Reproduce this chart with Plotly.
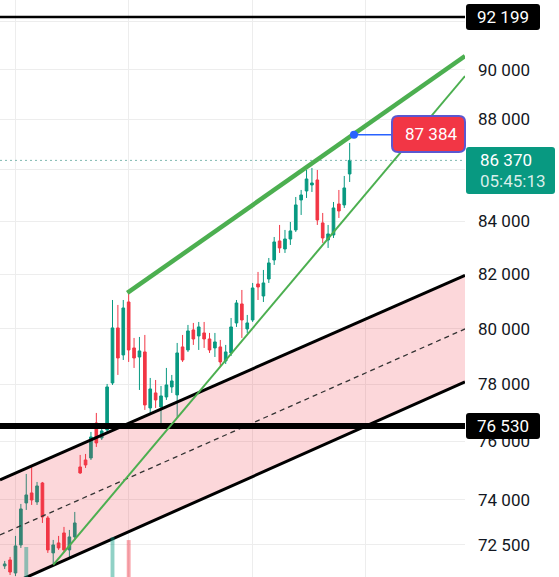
import math
import plotly.graph_objects as go

# ---------------- data ----------------
opens = [71804, 72001, 71575, 72495, 73894, 74232, 73928, 74570, 73391, 72232,
         72561, 72892, 72331, 72760, 75116, 75355, 75424, 76636, 76115, 76393,
         78045, 80025, 79047, 80977, 79299, 78974, 79155, 77162, 77691, 77197,
         77549, 77903, 77620, 79336, 79227, 79952, 79734, 79843, 79624, 79299,
         79336, 78830, 79119, 80207, 80904, 79989, 80316, 81644, 81198, 81829,
         82541, 83258, 82956, 83334, 83677, 84827, 85176, 85409, 85603, 83944,
         83296, 83486, 84673, 84635, 85838]
highs = [71968, 72100, 72793, 73861, 74877, 75116, 74604, 74604, 73458, 72660,
         72793, 73092, 72992, 73592, 75528, 75562, 76323, 76986, 76462, 78009,
         81050, 80867, 81050, 81310, 79661, 79697, 79770, 78223, 78151, 77938,
         78580, 78330, 79480, 79770, 80134, 80207, 80243, 80243, 79843, 79843,
         79588, 79408, 80389, 81050, 81421, 80500, 81681, 82092, 82167, 82616,
         83410, 83868, 83677, 83982, 84943, 85215, 85994, 86072, 85994, 84327,
         83868, 84750, 85215, 85760, 87058]
lows = [71706, 71509, 71476, 72396, 73660, 73827, 73827, 73224, 72232, 71837,
        72331, 72232, 72067, 72660, 74877, 75082, 75355, 75804, 76045, 76323,
        77974, 78330, 78866, 78795, 78580, 77797, 77092, 76916, 77162, 76636,
        77443, 77691, 76810, 78795, 79155, 79408, 79227, 79299, 79119, 78974,
        78616, 78723, 79010, 80061, 79661, 79843, 80243, 81050, 80977, 81681,
        82354, 82805, 82805, 83107, 83601, 84250, 84905, 85137, 83868, 83183,
        82994, 83372, 84135, 84519, 85525]
closes = [71870, 71607, 72462, 73693, 74164, 73995, 74469, 73425, 72331, 72495,
          72396, 72331, 72760, 73224, 74911, 75184, 76149, 75942, 76358, 77903,
          80025, 78938, 80756, 79227, 78938, 79191, 77267, 77832, 77443, 77585,
          77974, 78116, 79119, 78866, 79916, 79624, 80061, 79624, 79227, 79516,
          78795, 79155, 80061, 80940, 80316, 80207, 81495, 81532, 81681, 82429,
          83221, 82994, 83334, 83639, 84635, 85021, 85642, 85487, 84058, 83372,
          83525, 84519, 84404, 85293, 86370]
bar_index = list(range(len(opens)))

# visible volume bars (index, volume units)
vol_index = [4, 20, 23]
vol_values = [5.2, 6.9, 6.4]
vol_colors = ["rgba(8,153,129,0.45)", "rgba(8,153,129,0.45)", "rgba(242,54,69,0.45)"]

# drawing levels / trend lines (price anchors)
level_top = 92199
level_support = 76530
last_price = 86370
last_time = "05:45:13"
alert_price = 87384
alert_index = 64.8

upper_trend_x = [22.75, 85.4]
upper_trend_y = [81310, 90575]
lower_trend_x = [9, 85.4]
lower_trend_y = [71837, 89752]

channel_x = [-0.872, 85.4]
channel_upper = [74672, 81964]
channel_mid = [72826, 79989]
channel_lower = [71054, 78080]

y_ticks = [72500, 74000, 76000, 78000, 80000, 82000, 84000, 86000, 88000, 90000, 92000]
y_ticktext = ["72 500", "74 000", "76 000", "78 000", "80 000", "82 000", "84 000", "", "88 000", "90 000", ""]
x_grid = [2, 23, 46, 66.85]

x_range = [-0.872, 85.4]
y_min, y_max = 71444, 92915

# ---------------- styling ----------------
W, H = 559, 577
PW = 465  # plot width in px
UP = "#089981"
DN = "#f23645"
GREEN = "#4caf50"
FONT = "Roboto"


def px(x):
    return x / PW


def py(y):
    return 1 - y / H


def rrect(x0, y0, x1, y1, r):
    rx, ry = r / PW, r / H
    a, b, c, d = px(x0), py(y0), px(x1), py(y1)
    return (f"M {a+rx},{b} L {c-rx},{b} Q {c},{b} {c},{b-ry} "
            f"L {c},{d+ry} Q {c},{d} {c-rx},{d} L {a+rx},{d} "
            f"Q {a},{d} {a},{d+ry} L {a},{b-ry} Q {a},{b} {a+rx},{b} Z")


fig = go.Figure()

# channel fill
fig.add_trace(go.Scatter(
    x=[channel_x[0], channel_x[1], channel_x[1], channel_x[0]],
    y=[channel_upper[0], channel_upper[1], channel_lower[1], channel_lower[0]],
    fill="toself", fillcolor="rgba(242,54,69,0.2)", mode="lines",
    line=dict(width=0), hoverinfo="skip", showlegend=False))

# candles
fig.add_trace(go.Candlestick(
    x=bar_index, open=opens, high=highs, low=lows, close=closes,
    increasing=dict(line=dict(color=UP, width=1), fillcolor=UP),
    decreasing=dict(line=dict(color=DN, width=1), fillcolor=DN),
    whiskerwidth=0, showlegend=False))

# dotted last price line
fig.add_trace(go.Scatter(x=x_range, y=[last_price, last_price], mode="lines",
                         line=dict(color="#7fb8b0", width=1, dash="2px,3px"),
                         hoverinfo="skip", showlegend=False))

# channel lines
fig.add_trace(go.Scatter(x=channel_x, y=channel_upper, mode="lines",
                         line=dict(color="black", width=3), showlegend=False))
fig.add_trace(go.Scatter(x=channel_x, y=channel_lower, mode="lines",
                         line=dict(color="black", width=3), showlegend=False))
fig.add_trace(go.Scatter(x=channel_x, y=channel_mid, mode="lines",
                         line=dict(color="#333333", width=1.3, dash="5px,4px"), showlegend=False))

# horizontal levels
fig.add_trace(go.Scatter(x=x_range, y=[level_top, level_top], mode="lines",
                         line=dict(color="black", width=2.5), showlegend=False))
fig.add_trace(go.Scatter(x=x_range, y=[level_support, level_support], mode="lines",
                         line=dict(color="black", width=6), showlegend=False))

# trend lines
fig.add_trace(go.Scatter(x=lower_trend_x, y=lower_trend_y, mode="lines",
                         line=dict(color=GREEN, width=2), showlegend=False))
fig.add_trace(go.Scatter(x=upper_trend_x, y=upper_trend_y, mode="lines",
                         line=dict(color=GREEN, width=4.5), showlegend=False))

# alert connector + dot
fig.add_trace(go.Scatter(x=[alert_index, x_range[0] + 392 / PW * (x_range[1] - x_range[0])],
                         y=[alert_price, alert_price], mode="lines",
                         line=dict(color="#2962ff", width=1.5), showlegend=False))
fig.add_trace(go.Scatter(x=[alert_index], y=[alert_price], mode="markers",
                         marker=dict(color="#2962ff", size=8), showlegend=False))

# volume
fig.add_trace(go.Bar(x=vol_index, y=vol_values, marker=dict(color=vol_colors, line=dict(width=0)),
                     width=0.72, yaxis="y2", showlegend=False))

shapes = [
    dict(type="path", xref="paper", yref="paper", path=rrect(466, 4, 540, 30, 3),
         fillcolor="black", line=dict(width=0), layer="above"),
    dict(type="path", xref="paper", yref="paper", path=rrect(466, 413, 540, 439, 3),
         fillcolor="black", line=dict(width=0), layer="above"),
    dict(type="path", xref="paper", yref="paper", path=rrect(466, 147, 555, 194, 3),
         fillcolor=UP, line=dict(width=0), layer="above"),
    dict(type="path", xref="paper", yref="paper", path=rrect(392, 116, 465, 152, 6),
         fillcolor=DN, line=dict(color="#5b57d0", width=2), layer="above"),
]

annotations = [
    dict(text=f"{level_top:,}".replace(",", " "), x=px(503), y=py(17)),
    dict(text=f"{level_support:,}".replace(",", " "), x=px(503), y=py(426)),
    dict(text=f"{alert_price:,}".replace(",", " "), x=px(431), y=py(134)),
    dict(text=f"{last_price:,}".replace(",", " "), x=px(478), y=py(160), xanchor="left"),
    dict(text=last_time, x=px(478), y=py(181), xanchor="left", font=dict(family=FONT, size=17, color="rgba(255,255,255,0.85)")),
]
for a in annotations:
    a.setdefault("xanchor", "center")
    a.update(xref="paper", yref="paper", yanchor="middle", showarrow=False)
    a.setdefault("font", dict(family=FONT, size=17, color="white"))

fig.update_layout(
    width=W, height=H,
    margin=dict(l=0, r=W - PW, t=0, b=0),
    paper_bgcolor="white", plot_bgcolor="white",
    showlegend=False,
    shapes=shapes, annotations=annotations,
    xaxis=dict(range=x_range, rangeslider=dict(visible=False), showticklabels=False,
               tickvals=x_grid, showgrid=True, gridcolor="#ededed", gridwidth=1,
               zeroline=False, showline=False, ticks=""),
    yaxis=dict(type="log", range=[math.log10(y_min), math.log10(y_max)], side="right",
               tickvals=y_ticks, ticktext=y_ticktext, showgrid=True, gridcolor="#ededed",
               tickfont=dict(family=FONT, size=17, color="#131722"), ticks="",
               ticklabelstandoff=12, zeroline=False, showline=False),
    yaxis2=dict(overlaying="y", range=[0, 100], visible=False, fixedrange=True),
    font=dict(family=FONT),
)

fig.write_html("out.html", config=dict(displayModeBar=False),
               post_script="document.body.style.margin='0';")
